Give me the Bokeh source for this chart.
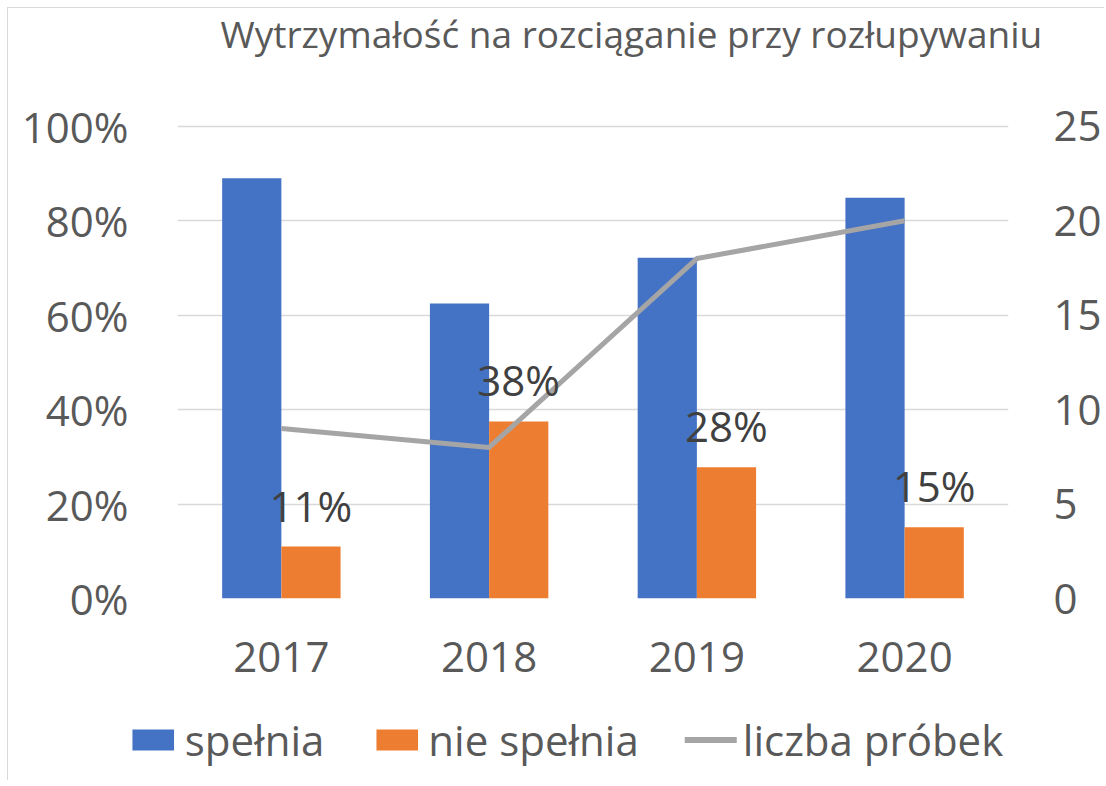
from bokeh.plotting import figure
from bokeh.layouts import column
from bokeh.models import (Range1d, LinearAxis, FactorRange, NumeralTickFormatter,
                          FixedTicker, Legend, LegendItem, ColumnDataSource,
                          LabelSet, Label)
from bokeh.transform import dodge
from bokeh.core.properties import value
from bokeh.embed import file_html
from bokeh.resources import INLINE

# ---- data ----
years = ["2017", "2018", "2019", "2020"]
spelnia = [0.89, 0.625, 0.722, 0.849]
nie_spelnia = [0.11, 0.375, 0.278, 0.151]
liczba_probek = [9, 8, 18, 20]
pct_ticks = [0, 0.2, 0.4, 0.6, 0.8, 1.0]
count_ticks = [0, 5, 10, 15, 20, 25]
title_text = "Wytrzymałość na rozciąganie przy rozłupywaniu"
series_names = ["spełnia", "nie spełnia", "liczba próbek"]

FONT = "Open Sans"
TXT = "#595959"
BLUE, ORANGE, GRAY = "#4472C4", "#ED7D31", "#A5A5A5"
FS = "42px"

src = ColumnDataSource(dict(
    year=years, spelnia=spelnia, nie=nie_spelnia, n=liczba_probek,
    lab=[f"{v:.0%}" for v in nie_spelnia],
))

TOTAL_W = 169 + 831 + 94


def strip(height, left=0, right=0):
    f = figure(width=TOTAL_W, height=height, x_range=Range1d(0, 1), y_range=Range1d(0, 1),
               x_axis_type=None, y_axis_type=None, output_backend="svg",
               toolbar_location=None, min_border=0,
               min_border_left=left, min_border_right=right)
    f.outline_line_color = None
    f.xgrid.grid_line_color = None
    f.ygrid.grid_line_color = None
    return f


# ---------- title strip ----------
t = strip(50)
t.add_layout(Label(x=212, y=25, x_units="screen", y_units="screen", text=title_text,
                   text_font=FONT, text_font_size="37px", text_color=TXT,
                   text_align="left", text_baseline="middle"))

# ---------- main chart ----------
p = figure(frame_width=831, frame_height=474,
           x_range=FactorRange(factors=years, range_padding=0),
           y_range=Range1d(0, 1.004),
           output_backend="svg", toolbar_location=None,
           min_border_left=169, min_border_right=94,
           min_border_top=66, min_border_bottom=100)
p.outline_line_color = None
p.title = None
p.extra_y_ranges = {"n": Range1d(0, 25.1)}

la = p.yaxis[0]
la.ticker = FixedTicker(ticks=pct_ticks)
la.formatter = NumeralTickFormatter(format="0%")
ra = LinearAxis(y_range_name="n", ticker=FixedTicker(ticks=count_ticks))
p.add_layout(ra, "right")
for ax in [la, ra, p.xaxis[0]]:
    ax.axis_line_color = None
    ax.major_tick_line_color = None
    ax.minor_tick_line_color = None
    ax.major_tick_out = 0
    ax.major_tick_in = 0
    ax.minor_tick_out = 0
    ax.minor_tick_in = 0
    ax.major_label_text_font = FONT
    ax.major_label_text_font_size = FS
    ax.major_label_text_color = TXT
la.major_label_standoff = 49
ra.major_label_standoff = 45
p.xaxis[0].major_label_standoff = 43

p.xgrid.grid_line_color = None
p.ygrid.ticker = FixedTicker(ticks=pct_ticks)
p.ygrid.grid_line_color = "#D9D9D9"
p.ygrid.grid_line_width = 1.5

p.vbar(x=dodge("year", -0.1425, range=p.x_range), top="spelnia", width=0.285,
       source=src, fill_color=BLUE, line_color=None)
p.vbar(x=dodge("year", 0.1425, range=p.x_range), top="nie", width=0.285,
       source=src, fill_color=ORANGE, line_color=None)
p.line(x="year", y="n", y_range_name="n", source=src,
       line_color=GRAY, line_width=5, line_join="round")
p.add_layout(LabelSet(x=dodge("year", 0.1425, range=p.x_range), y="nie", text="lab",
                      source=src, y_offset=25, text_align="center",
                      text_baseline="alphabetic", text_font=value(FONT),
                      text_font_size=value(FS), text_color=value("#404040")))

# ---------- legend strip ----------
q = strip(82, left=20, right=TOTAL_W - 1097)
# off-screen proxies so the legend can draw its swatches
g1 = q.vbar(x=[5], top=[5], bottom=[4], width=0.1, fill_color=BLUE, line_color=None)
g2 = q.vbar(x=[5], top=[5], bottom=[4], width=0.1, fill_color=ORANGE, line_color=None)
g3 = q.line(x=[5, 6], y=[5, 6], line_color=GRAY, line_width=6, line_cap="round")
legend = Legend(items=[LegendItem(label=series_names[0], renderers=[g1]),
                       LegendItem(label=series_names[1], renderers=[g2]),
                       LegendItem(label=series_names[2], renderers=[g3])],
                orientation="horizontal", location="center",
                glyph_width=52, glyph_height=26, label_standoff=6, spacing=46,
                label_text_font=FONT, label_text_font_size=FS,
                label_text_color=TXT, border_line_color=None,
                background_fill_alpha=0, padding=0, margin=0)
q.add_layout(legend, "center")

layout = column(column(t), p, column(q), spacing=0,
                styles={"border-top": "1px solid #D9D9D9",
                        "border-left": "1px solid #D9D9D9",
                        "margin-left": "7px", "margin-top": "7px"})

open("out.html", "w").write(file_html(layout, INLINE))
